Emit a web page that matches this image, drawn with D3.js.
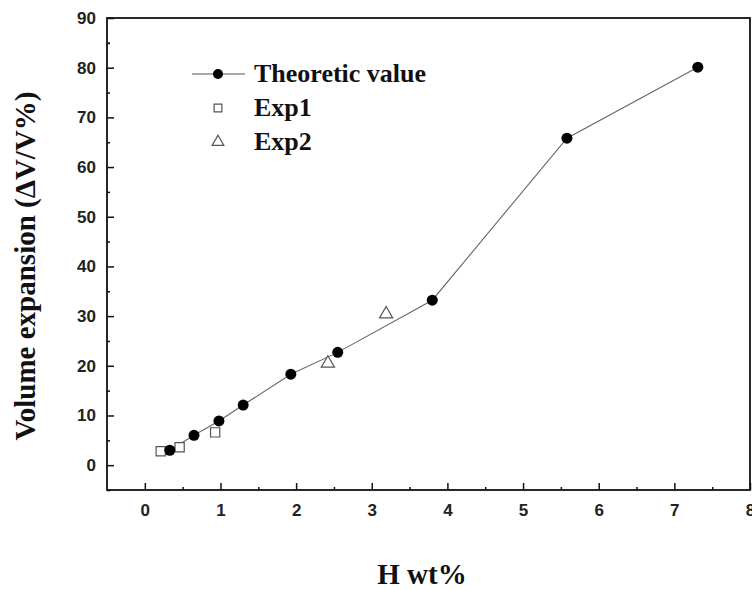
<!DOCTYPE html>
<html>
<head>
<meta charset="utf-8">
<script src="https://cdn.jsdelivr.net/npm/d3@7"></script>
<style>
  body { margin: 0; background: #fff; }
  .tick text { font-family: Arial, "Liberation Sans", sans-serif; font-weight: bold; font-size: 17px; fill: #222; }
  .titulo { font-family: "Times New Roman", "Liberation Serif", serif; font-weight: bold; fill: #111; }
</style>
</head>
<body>
<div id="graf"></div>
<script>
// theoretic value (filled circles, joined by a line)
const teoX = [0.33, 0.65, 0.98, 1.30, 1.93, 2.55, 3.80, 5.58, 7.31]
const teoY = [3.0, 6.0, 8.9, 12.1, 18.3, 22.7, 33.2, 65.8, 80.1]
// Exp1 (open squares)
const exp1X = [0.21, 0.46, 0.93]
const exp1Y = [2.8, 3.6, 6.6]
// Exp2 (open triangles)
const exp2X = [2.42, 3.19]
const exp2Y = [20.5, 30.4]

const xTicks = [0, 1, 2, 3, 4, 5, 6, 7, 8]
const yTicks = [0, 10, 20, 30, 40, 50, 60, 70, 80, 90]

const anchoTotal = 752
const altoTotal = 590
const margin = { top: 18, bottom: 100, left: 107, right: 2 }
const ancho = anchoTotal - margin.left - margin.right
const alto = altoTotal - margin.top - margin.bottom

const svg = d3.select('#graf')
  .append('svg')
  .attr('width', anchoTotal)
  .attr('height', altoTotal)

const g = svg.append('g')
  .attr('transform', `translate(${margin.left}, ${margin.top})`)

const x = d3.scaleLinear().domain([-0.5, 8]).range([0, ancho])
const y = d3.scaleLinear().domain([-5, 90]).range([alto, 0])

// minor ticks (inside, short)
g.append('g')
  .attr('transform', `translate(0, ${alto})`)
  .call(d3.axisBottom(x).tickValues(d3.range(0.5, 8, 1)).tickSize(-3).tickFormat(''))
g.append('g')
  .call(d3.axisLeft(y).tickValues(d3.range(-5, 90, 10).concat([85])).tickSize(-3).tickFormat(''))

// major ticks
g.append('g')
  .attr('class', 'ejes')
  .attr('transform', `translate(0, ${alto})`)
  .call(d3.axisBottom(x).tickValues(xTicks).tickSize(-7).tickPadding(14))
g.append('g')
  .attr('class', 'ejes')
  .call(d3.axisLeft(y).tickValues(yTicks).tickSize(-7).tickPadding(11))

g.selectAll('.domain').remove()
g.selectAll('.tick line').attr('stroke', '#111').attr('stroke-width', 1.5)

// frame
g.append('rect')
  .attr('x', 0).attr('y', 0)
  .attr('width', ancho).attr('height', alto)
  .attr('fill', 'none')
  .attr('stroke', '#111')
  .attr('stroke-width', 1.8)

const teo = teoX.map((d, i) => ({ x: d, y: teoY[i] }))
const e1 = exp1X.map((d, i) => ({ x: d, y: exp1Y[i] }))
const e2 = exp2X.map((d, i) => ({ x: d, y: exp2Y[i] }))

g.append('path')
  .datum(teo)
  .attr('fill', 'none')
  .attr('stroke', '#666')
  .attr('stroke-width', 1.1)
  .attr('d', d3.line().x(d => x(d.x)).y(d => y(d.y)))

g.selectAll('.sq').data(e1).enter()
  .append('path')
  .attr('class', 'sq')
  .attr('transform', d => `translate(${x(d.x)}, ${y(d.y)})`)
  .attr('d', d3.symbol(d3.symbolSquare, 85))
  .attr('fill', 'white')
  .attr('stroke', '#555')
  .attr('stroke-width', 1.2)

g.selectAll('.tri').data(e2).enter()
  .append('path')
  .attr('class', 'tri')
  .attr('transform', d => `translate(${x(d.x)}, ${y(d.y)})`)
  .attr('d', d3.symbol(d3.symbolTriangle, 75))
  .attr('fill', 'white')
  .attr('stroke', '#555')
  .attr('stroke-width', 1.2)

g.selectAll('.dot').data(teo).enter()
  .append('circle')
  .attr('class', 'dot')
  .attr('cx', d => x(d.x))
  .attr('cy', d => y(d.y))
  .attr('r', 5.5)
  .attr('fill', '#000')

// legend
const leg = svg.append('g').attr('transform', 'translate(218, 74)')
leg.append('line').attr('x1', -26).attr('x2', 27).attr('stroke', '#555').attr('stroke-width', 1.2)
leg.append('circle').attr('r', 5).attr('fill', '#000')
leg.append('path')
  .attr('transform', 'translate(0, 34)')
  .attr('d', d3.symbol(d3.symbolSquare, 60))
  .attr('fill', 'white').attr('stroke', '#555').attr('stroke-width', 1.2)
leg.append('path')
  .attr('transform', 'translate(0, 68)')
  .attr('d', d3.symbol(d3.symbolTriangle, 60))
  .attr('fill', 'white').attr('stroke', '#555').attr('stroke-width', 1.2)

const legText = ['Theoretic value', 'Exp1', 'Exp2']
leg.selectAll('.lt').data(legText).enter()
  .append('text')
  .attr('class', 'titulo')
  .attr('x', 36)
  .attr('y', (d, i) => i * 34 + 8)
  .attr('font-size', 26)
  .text(d => d)

// axis titles
svg.append('text')
  .attr('class', 'titulo')
  .attr('text-anchor', 'middle')
  .attr('x', 422)
  .attr('y', 584)
  .attr('font-size', 29)
  .text('H wt%')

svg.append('text')
  .attr('class', 'titulo')
  .attr('text-anchor', 'middle')
  .attr('transform', 'translate(35, 266) rotate(-90)')
  .attr('font-size', 29)
  .text('Volume expansion (\u0394V/V%)')
</script>
</body>
</html>
